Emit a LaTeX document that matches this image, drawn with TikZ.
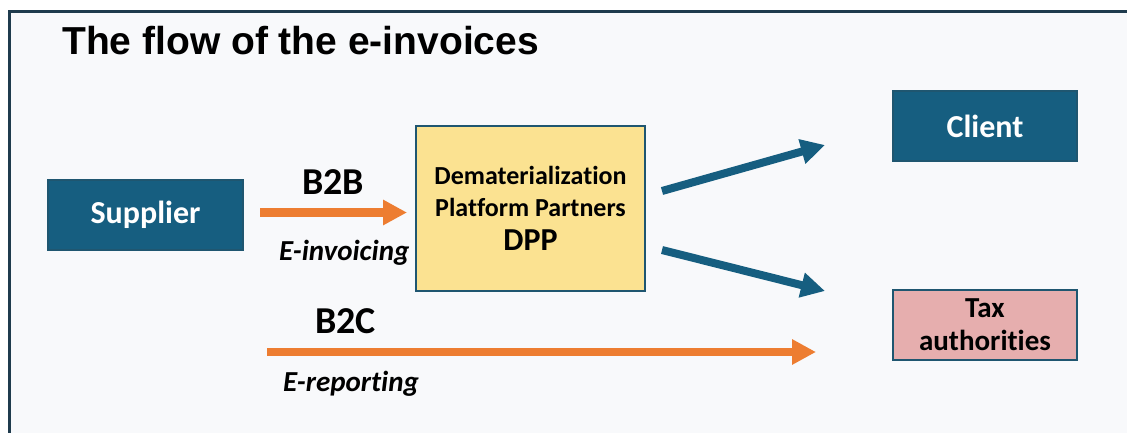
\documentclass[tikz,border=0pt]{standalone}
\usepackage{fontspec}
\setmainfont{Carlito}[Ligatures={NoCommon}]
\newfontfamily\titlefont{Liberation Sans}
\usetikzlibrary{arrows.meta}
\definecolor{framec}{HTML}{1F3B4D}
\definecolor{bgc}{HTML}{F8F9FB}
\definecolor{bluec}{HTML}{165E80}
\definecolor{edgec}{HTML}{1F5670}
\definecolor{orangec}{HTML}{ED7D31}
\definecolor{yellowc}{HTML}{FBE291}
\definecolor{pinkc}{HTML}{E6AEAE}
\tikzset{
  bluebox/.style={draw=edgec, line width=1.2pt, fill=bluec, text=white, minimum width=#1, minimum height=70pt, inner sep=0pt, font=\fontsize{32}{36}\selectfont\bfseries},
  orangearrow/.style={draw=orangec, line width=8.5pt, -{Triangle[length=24pt,width=24pt]}},
  bluearrow/.style={draw=bluec, line width=8pt, -{Triangle[length=24pt,width=24pt]}},
  lbl/.style={anchor=base west, inner sep=0pt, font=\fontsize{38}{40}\selectfont\bfseries},
  sublbl/.style={anchor=base west, inner sep=0pt, font=\fontsize{29}{30}\selectfont\bfseries\itshape},
}
\begin{document}
\begin{tikzpicture}[x=1pt,y=-1pt]
\useasboundingbox (0,0) rectangle (1127,432);
\fill[white] (0,0) rectangle (1127,432);
\draw[framec, line width=3pt, fill=bgc] (9.5,11.5) rectangle (1145,450);
\node[anchor=base west, inner sep=0pt, font=\titlefont\fontsize{39}{40}\selectfont\bfseries] (title) at (62,54) {The flow of the e-invoices};
\node[bluebox=195pt] (sup) at (145.5,215) {Supplier};
\node[draw=edgec, line width=1.2pt, fill=yellowc, minimum width=229pt, minimum height=165pt, inner sep=0pt, align=center, font=\fontsize{26}{32}\selectfont\bfseries] (dpp) at (530.5,208.5) {Dematerialization\\Platform Partners\\[2pt]{\fontsize{32}{34}\selectfont DPP}};
\node[bluebox=184pt] (cli) at (985,126) {Client};
\node[draw=edgec, line width=1.2pt, fill=pinkc, minimum width=184pt, minimum height=70pt, inner sep=0pt, align=center, font=\fontsize{29}{33}\selectfont\bfseries] (tax) at (985,325) {Tax\\authorities};
\coordinate (a1s) at (260,212.5);
\coordinate (a1e) at (407,212.5);
\coordinate (a2s) at (267,352);
\coordinate (a2e) at (816,352);
\coordinate (b1s) at (662,191);
\coordinate (b1e) at (825,145);
\coordinate (b2s) at (662,250);
\coordinate (b2e) at (825,291);
\draw[orangearrow] (a1s) -- (a1e);
\draw[orangearrow] (a2s) -- (a2e);
\draw[bluearrow] (b1s) -- (b1e);
\draw[bluearrow] (b2s) -- (b2e);
\node[lbl] (b2b) at (302,194) {B2B};
\node[sublbl] (einv) at (279,260) {E-invoicing};
\node[lbl] (b2c) at (315,333) {B2C};
\node[sublbl] (erep) at (283,391) {E-reporting};
\end{tikzpicture}
\end{document}
